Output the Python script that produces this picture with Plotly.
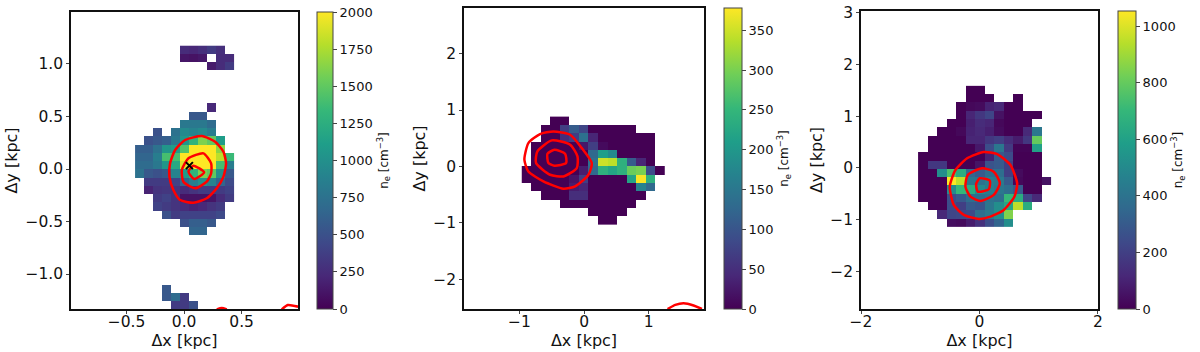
import plotly.graph_objects as go
from plotly.subplots import make_subplots

N = None

# electron density maps, rows listed top to bottom, columns left to right
ne_1 = [
    [N, N, N, N, N, 250, 220, 270, 350, 270],
    [N, N, N, N, N, 120, 100, 130, N, 250, 250],
    [N, N, N, N, N, N, N, N, 150, 250, 350],
    [N], [N], [N], [N],
    [N, N, N, N, N, N, N, N, 230],
    [N, N, N, N, N, N, 550, 550],
    [N, N, N, N, N, 800, 800, 800, 700],
    [N, N, 500, N, 750, 950, 900, 950, 850],
    [N, 500, 550, 600, 800, 1050, 1300, 1600, 1500, 1100],
    [600, 600, 750, 1050, 1100, 1450, 2000, 2000, 2000, 1650],
    [650, 650, 850, 1400, 1400, 2000, 2000, 2000, 2000, 1800, 1350],
    [700, 700, 800, 1050, 1200, 1900, 2000, 2000, 2000, 1400, 850],
    [750, 550, 500, 550, 900, 1100, 1300, 1600, 1500, 1000, 550],
    [N, 350, 350, 350, 400, 650, 850, 1000, 900, 650, 450],
    [N, 200, 300, 320, 300, 250, 300, 350, 350, 350, 400],
    [N, N, 350, 400, 300, 100, 100, 100, 120, 250, 350],
    [N, N, 400, 350, 300, 250, 200, 230, 300, 350],
    [N, N, N, 500, 350, 400, 400, 400, 400, 450],
    [N, N, N, N, N, 500, 600, 600, 550],
    [N, N, N, N, N, N, 650, 650],
    [N], [N], [N], [N], [N], [N],
    [N, N, N, 550],
    [N, N, N, 550, 700, 350],
    [N, N, N, N, 350, 350, 500],
]
ne_2 = [
    [N, N, N, 0, 0],
    [N, N, 0, 0, 70, 110, 80, 0, 0, 0, 0, 0],
    [N, N, 0, 0, 50, 70, 140, 40, 0, 0, 0, 0, 0, 0],
    [N, 0, 0, 0, 0, 0, 25, 70, 10, 0, 0, 0, 0, 0],
    [N, 0, 0, 0, 0, 0, 0, 130, 210, 180, 0, 0, 0, 0],
    [N, 0, 0, 0, 0, 0, 0, 140, 350, 340, 240, 110, 40, 0],
    [0, 0, 0, 0, 0, 0, 30, 130, 240, 220, 240, 290, 300, 90, 0],
    [0, 0, 0, 0, 0, 20, 70, 0, 0, 0, 0, 220, 375, 240],
    [N, 0, 0, 0, 0, 30, 40, 0, 0, 0, 0, 0, 170, 130],
    [N, N, 0, 0, 0, 50, 50, 0, 0, 0, 0, 0, 0],
    [N, N, N, N, 0, 0, 0, 0, 0, 0, 0, 0],
    [N, N, N, N, N, N, N, 0, 0, 0, 0],
    [N, N, N, N, N, N, N, N, 0, 0],
]
ne_3 = [
    [N, N, N, N, N, 0, 0],
    [N, N, N, N, N, 0, 0, 0, N, N, 0],
    [N, N, N, N, 0, 20, 30, 100, 120, 0, 0],
    [N, N, N, N, 0, 110, 170, 220, 50, 0, 0, 0, 0],
    [N, N, N, 0, 0, 90, 130, 110, 20, 0, 0, 0],
    [N, N, 0, 0, 20, 100, 120, 90, 30, 0, 0, 120, 420],
    [N, 0, 0, 0, 0, 110, 110, 170, 200, 130, 80, 170, 800],
    [N, 0, 0, 0, 0, 0, 70, 250, 420, 180, 10, 10, 600],
    [0, 0, 0, 0, 0, 0, 0, 100, 300, 240, 0, 0, 0],
    [0, 170, 170, 0, 0, 0, 60, 270, 300, 200, 0, 0, 0],
    [0, 0, 520, 750, 650, 350, 300, 380, 380, 200, 30, 0, 0],
    [0, 0, 0, 1050, 950, 420, 400, 450, 430, 300, 20, 0, 0, 50],
    [0, 0, 0, 500, 700, 650, 500, 450, 420, 380, 300, 0, 0],
    [0, 0, 0, 250, 300, 380, 380, 400, 380, 700, 650, 220, 120],
    [N, 0, 0, 250, 200, 300, 280, 420, 520, 620, 950, 650],
    [N, N, 120, 220, 230, 240, 380, 430, 520, 850],
    [N, N, N, 40, 30, 80, 150, 250, 340, 520],
]

# red contours, in kpc
contours_1 = [
    ([.154, .27, .342, .365, .342, .284, .197, .081, -.035, -.093, -.128, -.122, -.078, .009, .154],
     [.314, .26, .165, .054, -.073, -.184, -.279, -.321, -.295, -.2, -.073, .054, .181, .276, .314]),
    ([.168, .235, .235, .197, .096, -.006, -.02, .038, .168],
     [.149, .054, -.041, -.121, -.184, -.121, -.01, .102, .149]),
    ([.081, .174, .087, .038, .081], [.032, -.032, -.095, -.025, .032]),
    ([.284, .328, .371], [-1.337, -1.324, -1.337]),
    ([.849, .901, .991], [-1.337, -1.295, -1.311]),
]
contours_2 = [
    ([-.475, -.217, -.036, .119, .067, -.14, -.32, -.63, -.863, -.925, -.863, -.682, -.475],
     [.621, .562, .325, .059, -.148, -.355, -.396, -.266, -.089, .118, .414, .574, .621]),
    ([-.501, -.217, -.103, -.114, -.32, -.527, -.744, -.724, -.501],
     [.462, .385, .178, -.03, -.178, -.148, .059, .266, .462]),
    ([-.46, -.295, -.279, -.46, -.553, -.568, -.46],
     [.296, .225, .059, .012, .059, .225, .296]),
    ([1.292, 1.411, 1.54, 1.695, 1.824], [-2.53, -2.456, -2.426, -2.467, -2.53]),
]
contours_3 = [
    ([.073, .299, .524, .637, .592, .411, .186, -.011, -.265, -.434, -.501, -.406, -.208, .073],
     [.309, .27, .058, -.296, -.553, -.811, -.94, -.985, -.907, -.714, -.36, -.039, .187, .309]),
    ([.045, .242, .344, .242, .017, -.152, -.237, -.197, .045],
     [-.006, -.071, -.296, -.521, -.637, -.553, -.36, -.135, -.006]),
    ([.006, .175, .158, -.028, -.056, .006],
     [-.199, -.245, -.412, -.457, -.309, -.199]),
]
cross_x = [.046]
cross_y = [.032]

W, H = 1200, 352
panels = [
    dict(z=ne_1, ncol=11, x0=-.387, dx=.0783, y0=-1.299, dy=.0785, zmax=2000, cdtick=250, contours=contours_1,
         xr=[-.983, .99], yr=[-1.333, 1.495], xdtick=.5, ydtick=.5, fmt='.1f',
         left=71, right=298, top=12, bottom=309, cb=317, cbw=16),
    dict(z=ne_2, ncol=15, x0=-.892, dx=.1475, y0=-.967, dy=.148, zmax=378, cdtick=50, contours=contours_2,
         xr=[-1.86, 1.856], yr=[-2.53, 2.81], xdtick=1, ydtick=1, fmt='d',
         left=464, right=704, top=8, bottom=309, cb=724, cbw=18),
    dict(z=ne_3, ncol=14, x0=-.956, dx=.1605, y0=-1.066, dy=.1609, zmax=1053, cdtick=200, contours=contours_3,
         xr=[-2, 2.002], yr=[-2.728, 3.037], xdtick=2, ydtick=1, fmt='d',
         left=861, right=1098, top=11, bottom=309, cb=1118, cbw=18),
]

fig = make_subplots(rows=1, cols=3)

for i, p in enumerate(panels):
    col = i + 1
    rows = [r + [None] * (p['ncol'] - len(r)) for r in p['z']][::-1]
    fig.add_trace(go.Heatmap(
        z=rows, x0=p['x0'], dx=p['dx'], y0=p['y0'], dy=p['dy'],
        colorscale='Viridis', zmin=0, zmax=p['zmax'],
        colorbar=dict(
            x=p['cb'] / W, xanchor='left', xpad=0, ypad=0,
            y=1 - p['bottom'] / H, yanchor='bottom', len=(p['bottom'] - p['top']) / H,
            thickness=p['cbw'], outlinewidth=1, outlinecolor='#444444',
            ticks='outside', ticklen=4, tickwidth=1, dtick=p['cdtick'], tick0=0,
            tickfont=dict(size=13, color='#111111'),
            title=dict(text='n<sub>e</sub> [cm<sup>−3</sup>]', side='right',
                       font=dict(size=12, color='#111111')),
        ),
    ), 1, col)
    for cx, cy in p['contours']:
        fig.add_trace(go.Scatter(x=cx, y=cy, mode='lines', line=dict(color='red', width=2.5, shape='spline', smoothing=0.6),
                                 showlegend=False), 1, col)
    fig.update_xaxes(domain=[p['left'] / W, p['right'] / W], range=p['xr'], dtick=p['xdtick'], tick0=0,
                     tickformat=p['fmt'], title=dict(text='Δx [kpc]', font=dict(size=16, color='#111111'), standoff=0),
                     row=1, col=col)
    fig.update_yaxes(domain=[1 - p['bottom'] / H, 1 - p['top'] / H], range=p['yr'], dtick=p['ydtick'], tick0=0,
                     tickformat=p['fmt'], title=dict(text='Δy [kpc]', font=dict(size=16, color='#111111'), standoff=4),
                     row=1, col=col)

fig.add_trace(go.Scatter(x=cross_x, y=cross_y, mode='markers', showlegend=False,
                         marker=dict(symbol='x-thin', size=7, line=dict(color='black', width=2))), 1, 1)

fig.update_xaxes(showgrid=False, zeroline=False, showline=True, mirror=True, linecolor='#111111', linewidth=1.5,
                 ticks='outside', ticklen=3, tickwidth=1, tickfont=dict(size=15.5, color='#111111'), automargin=False,
                 ticklabelstandoff=-5)
fig.update_yaxes(showgrid=False, zeroline=False, showline=True, mirror=True, linecolor='#111111', linewidth=1.5,
                 ticks='outside', ticklen=3, tickwidth=1, tickfont=dict(size=15.5, color='#111111'), automargin=False)
fig.update_layout(width=W, height=H, margin=dict(l=0, r=0, t=0, b=0, autoexpand=False),
                  plot_bgcolor='white', paper_bgcolor='white',
                  font=dict(family='DejaVu Sans'), showlegend=False)

# browser default body margin would push the figure 8px in
fig.write_html("out.html", post_script="document.body.style.margin='0';", config=dict(displayModeBar=False))
